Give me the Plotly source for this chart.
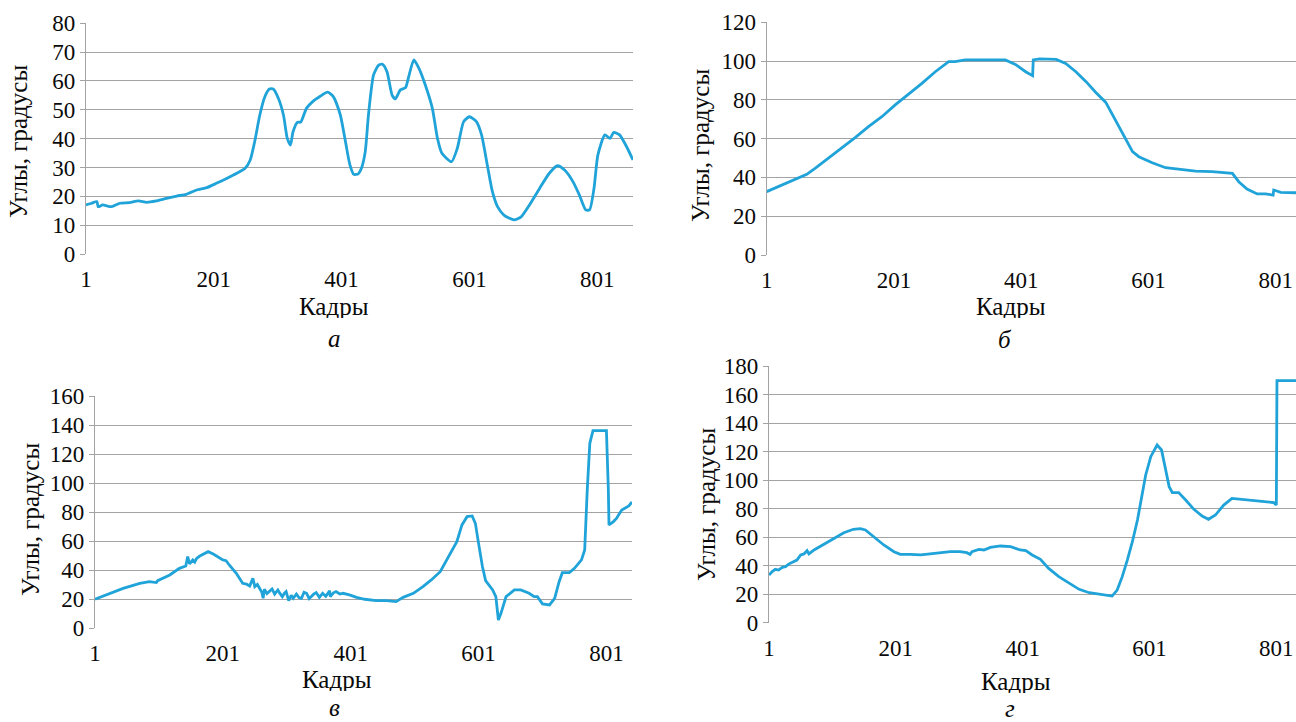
import plotly.graph_objects as go

# ---------------- data ----------------
frames_a = [1, 10, 18, 20, 27, 41, 54, 69, 83, 96, 111, 127, 143, 158, 174, 190, 205, 221, 237, 250,
            258, 265, 273, 281, 288, 294, 302, 310, 316, 321, 325, 332, 337, 346, 357, 367, 379, 388,
            399, 407, 414, 420, 427, 432, 438, 443, 451, 459, 465, 472, 480, 485, 493, 501, 506, 514,
            522, 532, 543, 551, 558, 573, 582, 592, 601, 612, 620, 629, 637, 645, 655, 671, 682, 695,
            711, 726, 739, 750, 763, 773, 783, 789, 796, 802, 813, 821, 827, 836, 847, 857]
angles_a = [17.0, 17.6, 18.2, 16.4, 17.0, 16.4, 17.6, 17.8, 18.4, 17.9, 18.4, 19.3, 20.1, 20.7, 22.2,
            23.0, 24.5, 26.2, 28.0, 29.7, 32.6, 39.0, 48.2, 54.6, 57.2, 57.2, 54.0, 48.2, 40.1, 37.8,
            42.4, 45.7, 45.7, 50.5, 53.1, 54.6, 56.1, 54.6, 48.2, 39.0, 30.9, 27.6, 27.8, 29.7, 35.5,
            48.2, 62.1, 65.5, 65.8, 63.2, 55.1, 53.8, 56.9, 57.7, 61.5, 67.3, 64.4, 58.6, 50.5, 40.1,
            34.9, 32.0, 36.6, 45.9, 47.6, 45.9, 41.3, 30.9, 21.6, 16.4, 13.5, 11.8, 12.9, 17.0, 22.8,
            28.0, 30.6, 29.1, 25.1, 20.5, 15.3, 15.3, 22.8, 34.3, 41.3, 40.1, 42.2, 41.3, 37.2, 32.6]

frames_b = [1, 25, 46, 64, 77, 98, 119, 140, 161, 182, 203, 224, 245, 266, 287, 297, 313, 334, 360,
            376, 392, 408, 419, 420, 430, 456, 471, 487, 503, 518, 534, 550, 565, 576, 586, 607, 628,
            649, 675, 701, 722, 733, 743, 756, 772, 785, 797, 798, 809, 833]
angles_b = [32.7, 36.1, 39.2, 41.6, 44.7, 49.9, 55.0, 60.5, 66.2, 71.3, 77.4, 82.9, 88.5, 94.5, 99.7,
            99.7, 100.6, 100.6, 100.6, 100.6, 98.3, 94.5, 92.5, 100.6, 101.1, 100.9, 98.8, 94.5, 89.4,
            83.9, 78.7, 68.8, 59.3, 53.3, 50.7, 47.6, 45.0, 44.2, 43.3, 43.0, 42.5, 42.1, 37.8, 34.0,
            31.5, 31.5, 30.9, 33.5, 32.3, 32.1]

frames_v = [1, 19, 45, 71, 86, 97, 99, 118, 133, 143, 146, 149, 154, 157, 160, 165, 173, 178, 186, 193,
            201, 206, 211, 222, 232, 238, 243, 248, 251, 255, 259, 262, 264, 266, 270, 274, 278, 282,
            287, 290, 294, 297, 300, 304, 308, 311, 316, 320, 324, 328, 332, 336, 339, 343, 347, 352,
            357, 362, 368, 369, 374, 378, 384, 389, 399, 410, 423, 441, 457, 472, 483,
            499, 514, 527, 541, 553, 567, 575, 583, 591, 596, 601, 607, 612, 623, 628, 632, 636, 644,
            657, 667, 680, 688, 693, 701, 712, 720, 727, 732, 743, 751, 762, 767, 771, 775, 780, 801,
            804, 805, 812, 817, 820, 825, 836, 841]
angles_v = [20.0, 23.0, 27.5, 31.0, 32.1, 31.5, 32.8, 36.7, 41.3, 42.9, 49.4, 44.3, 47.1, 45.6, 48.2,
            49.8, 51.7, 52.8, 51.2, 49.4, 47.1, 46.6, 43.6, 37.9, 31.0, 30.4, 29.2, 34.4, 28.7, 30.2,
            27.5, 24.8, 20.7, 26.9, 23.9, 25.3, 27.1, 23.6, 26.4, 24.2, 21.8, 24.0, 25.3, 19.1, 22.7,
            20.7, 23.6, 21.2, 20.7, 24.8, 24.1, 20.4, 21.8, 23.5, 24.6, 21.3, 24.1, 22.0, 25.9, 21.8,
            24.4, 25.3, 23.6, 24.1, 23.0, 21.3, 20.0, 19.1, 19.1, 18.4, 21.3,
            24.1, 28.7, 33.3, 39.0, 48.2, 59.7, 71.2, 76.9, 77.4, 72.3, 58.5, 42.5, 32.8, 26.4, 21.8,
            5.7, 10.3, 21.8, 26.4, 26.4, 24.1, 21.8, 21.8, 16.8, 16.1, 20.7, 32.1, 38.3, 38.3, 41.3,
            47.1, 53.9, 95.3, 127.4, 136.1, 136.1, 95.3, 71.2, 73.5, 75.8, 78.1, 81.5, 84.3, 87.0]

frames_g = [1, 6, 11, 16, 22, 27, 32, 40, 45, 51, 56, 61, 64, 72, 87, 103, 119, 134, 145, 153, 166,
            182, 198, 208, 224, 240, 255, 271, 287, 302, 313, 318, 321, 332, 340, 350, 366, 382, 397,
            406, 416, 429, 442, 458, 474, 490, 506, 521, 534, 542, 550, 558, 566, 574, 582, 589, 595,
            603, 613, 620, 626, 632, 637, 647, 658, 671, 684, 694, 705, 718, 731, 747, 768, 784, 797,
            801, 802, 832]
angles_g = [33.4, 35.8, 37.4, 36.9, 38.8, 39.3, 41.1, 42.8, 43.9, 47.5, 48.2, 50.5, 48.2, 51.0, 54.9,
            59.1, 63.1, 65.5, 65.9, 65.0, 60.3, 54.5, 49.8, 47.9, 47.9, 47.5, 48.2, 49.1, 49.8, 49.8,
            49.1, 47.9, 49.8, 51.4, 51.0, 52.8, 53.8, 53.3, 51.0, 50.5, 47.5, 44.4, 38.1, 32.3, 28.1,
            23.4, 21.0, 20.1, 19.4, 18.7, 22.9, 32.3, 43.9, 56.8, 72.0, 90.7, 103.6, 116.4, 124.6,
            121.1, 107.0, 95.4, 91.2, 91.2, 86.0, 79.5, 74.8, 72.5, 75.5, 82.5, 87.2, 86.5, 85.6, 84.9,
            84.2, 82.5, 169.7, 169.7]

tick_frames = [1, 201, 401, 601, 801]
tick_labels = ["1", "201", "401", "601", "801"]
y_title = "Углы, градусы"
x_title = "Кадры"
panel_letters = ["а", "б", "в", "г"]

# ---------------- figure ----------------
W, H = 1296, 722
LINE = "#1fa3d8"
GRID = "#a3a3a3"
FONT = "Liberation Serif"
FS_TICK = 23
FS_TITLE = 25
TXT = "#0a0a0a"

def px(x):
    return x / W

def py(y):
    return 1 - y / H

panels = [
    # (frames, angles, x-range end, y max, y step, x px domain, y px domain, spline)
    (frames_a, angles_a, 857, 80, 10, (86, 633), (23.3, 254), True),
    (frames_b, angles_b, 833, 120, 20, (766.7, 1296), (22.3, 255), False),
    (frames_v, angles_v, 841, 160, 20, (95, 632), (396, 628.3), False),
    (frames_g, angles_g, 832, 180, 20, (769, 1296), (366, 622.7), False),
]

fig = go.Figure()
layout = dict(
    template="none",
    width=W, height=H,
    margin=dict(l=0, r=0, t=0, b=0, pad=0, autoexpand=False),
    paper_bgcolor="white", plot_bgcolor="white",
    showlegend=False,
    font=dict(family=FONT, size=FS_TICK, color=TXT),
)
annotations = []

label_pos = [
    # x-title (x,y), letter (x,y), y-title (x,y)
    ((334, 306), (334, 338), (18, 142)),
    ((1011, 306), (1005, 339), (700, 146)),
    ((337, 679), (334, 707), (30, 520)),
    ((1016, 681), (1010, 708), (706, 505)),
]

for i, (fr, an, xend, ymax, ystep, (x0, x1), (ytop, ybot), spline) in enumerate(panels):
    n = "" if i == 0 else str(i + 1)
    fig.add_trace(go.Scatter(
        x=fr, y=an, mode="lines",
        line=dict(color=LINE, width=2.8, shape="spline" if spline else "linear",
                  smoothing=0.6 if spline else None),
        xaxis="x" + n, yaxis="y" + n, hoverinfo="skip",
    ))
    layout["xaxis" + n] = dict(
        domain=[px(x0), min(px(x1), 1.0)], anchor="y" + n, automargin=False,
        range=[1, xend], tickvals=tick_frames, ticktext=tick_labels,
        showgrid=False, zeroline=False, showline=False, ticks="",
        ticklabelstandoff=9, ticklabeloverflow="allow",
        tickfont=dict(family=FONT, size=FS_TICK, color=TXT),
    )
    layout["yaxis" + n] = dict(
        domain=[py(ybot), py(ytop)], anchor="x" + n, automargin=False,
        range=[0, ymax], dtick=ystep, tick0=0,
        showgrid=True, gridcolor=GRID, gridwidth=1.2,
        zeroline=False, showline=True, linecolor=GRID, linewidth=1.2,
        ticks="outside", ticklen=5, tickcolor=GRID, tickwidth=1.2,
        tickfont=dict(family=FONT, size=FS_TICK, color=TXT),
    )
    (xtx, xty), (lx, ly), (ytx, yty) = label_pos[i]
    annotations.append(dict(text=x_title, x=px(xtx), y=py(xty), xref="paper", yref="paper",
                            xanchor="center", yanchor="middle", showarrow=False, height=24,
                            font=dict(family=FONT, size=FS_TITLE, color=TXT)))
    annotations.append(dict(text="<i>" + panel_letters[i] + "</i>", x=px(lx), y=py(ly),
                            xref="paper", yref="paper", xanchor="center", yanchor="middle",
                            showarrow=False, height=24,
                            font=dict(family=FONT, size=FS_TITLE, color=TXT)))
    annotations.append(dict(text=y_title, x=px(ytx), y=py(yty), xref="paper", yref="paper",
                            xanchor="center", yanchor="middle", showarrow=False, textangle=-90,
                            font=dict(family=FONT, size=FS_TITLE, color=TXT)))

layout["annotations"] = annotations
fig.update_layout(**layout)
fig.write_html("out.html", config={"displayModeBar": False},
               post_script="document.body.style.margin='0px';")
